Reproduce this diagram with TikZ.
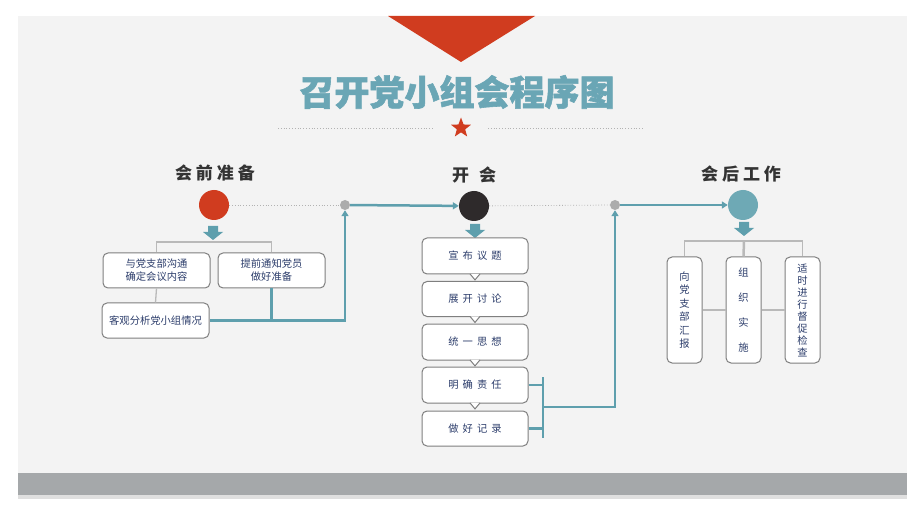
\documentclass[tikz,border=0pt]{standalone}
\usepackage{fontspec}
\newfontfamily\cjk{Noto Sans CJK SC}
\newfontfamily\cjkheavy{Noto Sans CJK SC}[BoldFeatures={FakeBold=1.6}]
\usetikzlibrary{arrows.meta,shapes.geometric}
\definecolor{tealc}{HTML}{5E9FAD}
\definecolor{titleteal}{HTML}{6AA6B5}
\definecolor{redc}{HTML}{D03C1F}
\definecolor{darkc}{HTML}{2E2A2B}
\definecolor{boxgray}{HTML}{7F7F7F}
\definecolor{textblue}{HTML}{2C3D6B}
\definecolor{headgray}{HTML}{333333}
\definecolor{panel}{HTML}{F3F3F3}
\definecolor{barc}{HTML}{A5A8AA}
\begin{document}
\begin{tikzpicture}[x=1pt,y=-1pt,
    box/.style={draw=boxgray, fill=white, rounded corners=5pt, line width=1pt, inner sep=0pt,
      font=\cjk\fontsize{10.3}{13}\selectfont, text=textblue, align=center},
    head/.style={font=\cjk\bfseries\fontsize{17}{17}\selectfont, text=headgray},
    dot/.style={circle, inner sep=0pt, minimum size=30pt},
    joint/.style={circle, fill=gray!65, inner sep=0pt, minimum size=10pt},
    tealline/.style={draw=tealc, line width=2.5pt},
    flow/.style={tealline, -{Triangle[width=7pt,length=6pt]}},
    link/.style={draw=gray!55, line width=1.3pt},
    gap/.style={draw=gray!60, dotted, line width=0.8pt}]
  % background
  \fill[white] (0,0) rectangle (920,518);
  \fill[panel] (18,16) rectangle (907,499);
  \fill[barc] (18,473) rectangle (907,495);
  \fill[gray!25] (18,495) rectangle (907,499);
  \fill[redc] (388,16) -- (535,16) -- (461,62) -- cycle;
  % title
  \node[font=\cjkheavy\bfseries\fontsize{35}{35}\selectfont, text=titleteal] (title) at (457,92) {召开党小组会程序图};
  \draw[gap] (278,128) -- (433,128);
  \draw[gap] (488,128) -- (644,128);
  \node[star, star points=5, star point ratio=2.4, fill=redc, inner sep=0pt, minimum size=21pt] (star) at (461,128) {};

  % stages
  \node[head] (h1) at (215,173) {会\hspace{4pt}前\hspace{4pt}准\hspace{4pt}备};
  \node[head] (h2) at (474,175) {开\hspace{10pt}会};
  \node[head] (h3) at (741,174) {会\hspace{4pt}后\hspace{4pt}工\hspace{4pt}作};
  \node[dot, fill=redc] (prep) at (214,205) {};
  \node[dot, fill=darkc] (meet) at (474,206) {};
  \node[dot, fill=tealc!90!white] (after) at (743,205) {};
  \node[joint] (j1) at (345,205) {};
  \node[joint] (j2) at (615,205) {};
  \draw[gap] (prep) -- (j1);
  \draw[gap] (meet) -- (j2);
  \draw[flow] (j1) -- (meet);
  \draw[flow] (j2) -- (after);

  % block arrows under the dots
  \coordinate (a1) at (213,226);
  \coordinate (a2) at (475,224);
  \coordinate (a3) at (744,222);
  \foreach \a in {a1,a2,a3}
    \fill[tealc] ([xshift=-5pt]\a) -- ++(10,0) -- ++(0,6) -- ++(5,0) -- ++(-10,8) -- ++(-10,-8) -- ++(5,0) -- cycle;

  % before the meeting
  \node[box, minimum width=107pt, minimum height=35pt] (p1) at (156.5,270.5) {与党支部沟通\\确定会议内容};
  \node[box, minimum width=107pt, minimum height=35pt] (p2) at (271.5,270.5) {提前通知党员\\做好准备};
  \node[box, minimum width=107pt, minimum height=35pt] (p3) at (155.5,320.5) {客观分析党小组情况};
  \coordinate (lb) at (214,242);
  \draw[link] (p1.north) |- (lb) -| (p2.north);
  \draw[link] (p1.south) -- (p3.north);
  \draw[tealline] (p2.south) -- (p2.south |- p3.east);
  \draw[flow] (p3.east) -| (j1.south);

  % the meeting
  \node[box, minimum width=106pt, minimum height=36pt] (m1) at (475,256) {宣\hspace{4pt}布\hspace{4pt}议\hspace{4pt}题};
  \node[box, minimum width=106pt, minimum height=35pt] (m2) at (475,299) {展\hspace{4pt}开\hspace{4pt}讨\hspace{4pt}论};
  \node[box, minimum width=106pt, minimum height=36pt] (m3) at (475,342) {统\hspace{4pt}一\hspace{4pt}思\hspace{4pt}想};
  \node[box, minimum width=106pt, minimum height=36pt] (m4) at (475,385) {明\hspace{4pt}确\hspace{4pt}责\hspace{4pt}任};
  \node[box, minimum width=106pt, minimum height=35pt] (m5) at (475,428.5) {做\hspace{4pt}好\hspace{4pt}记\hspace{4pt}录};
  \foreach \b in {m1,m2,m3,m4}
    \filldraw[fill=white, draw=boxgray, line width=1pt] ([xshift=-5pt,yshift=0.6pt]\b.south) -- ++(5,6) -- ++(5,-6);
  \coordinate (bt) at (543,377);
  \coordinate (bb) at (543,438);
  \coordinate (bm) at (543,407);
  \draw[tealline] (m4.east) -- (m4.east -| bt);
  \draw[tealline] (m5.east) -- (m5.east -| bt);
  \draw[tealline] (bt) -- (bb);
  \draw[flow] (bm) -| (j2.south);

  % after the meeting
  \node[box, minimum width=35pt, minimum height=106pt, font=\cjk\fontsize{10.3}{13.5}\selectfont] (r1) at (684.5,310) {向\\党\\支\\部\\汇\\报};
  \node[box, minimum width=35pt, minimum height=106pt, font=\cjk\fontsize{10.3}{25}\selectfont] (r2) at (743.5,310) {组\\织\\实\\施};
  \node[box, minimum width=35pt, minimum height=106pt, font=\cjk\fontsize{10.3}{12}\selectfont] (r3) at (802.5,310) {适\\时\\进\\行\\督\\促\\检\\查};
  \coordinate (rb) at (744,241);
  \draw[link] (r1.north) |- (rb) -| (r3.north);
  \draw[link, line width=2.5pt] (rb) -- (r2.north);
  \draw[link] (r1.east) -- (r2.west);
  \draw[link] (r2.east) -- (r3.west);
\end{tikzpicture}
\end{document}
